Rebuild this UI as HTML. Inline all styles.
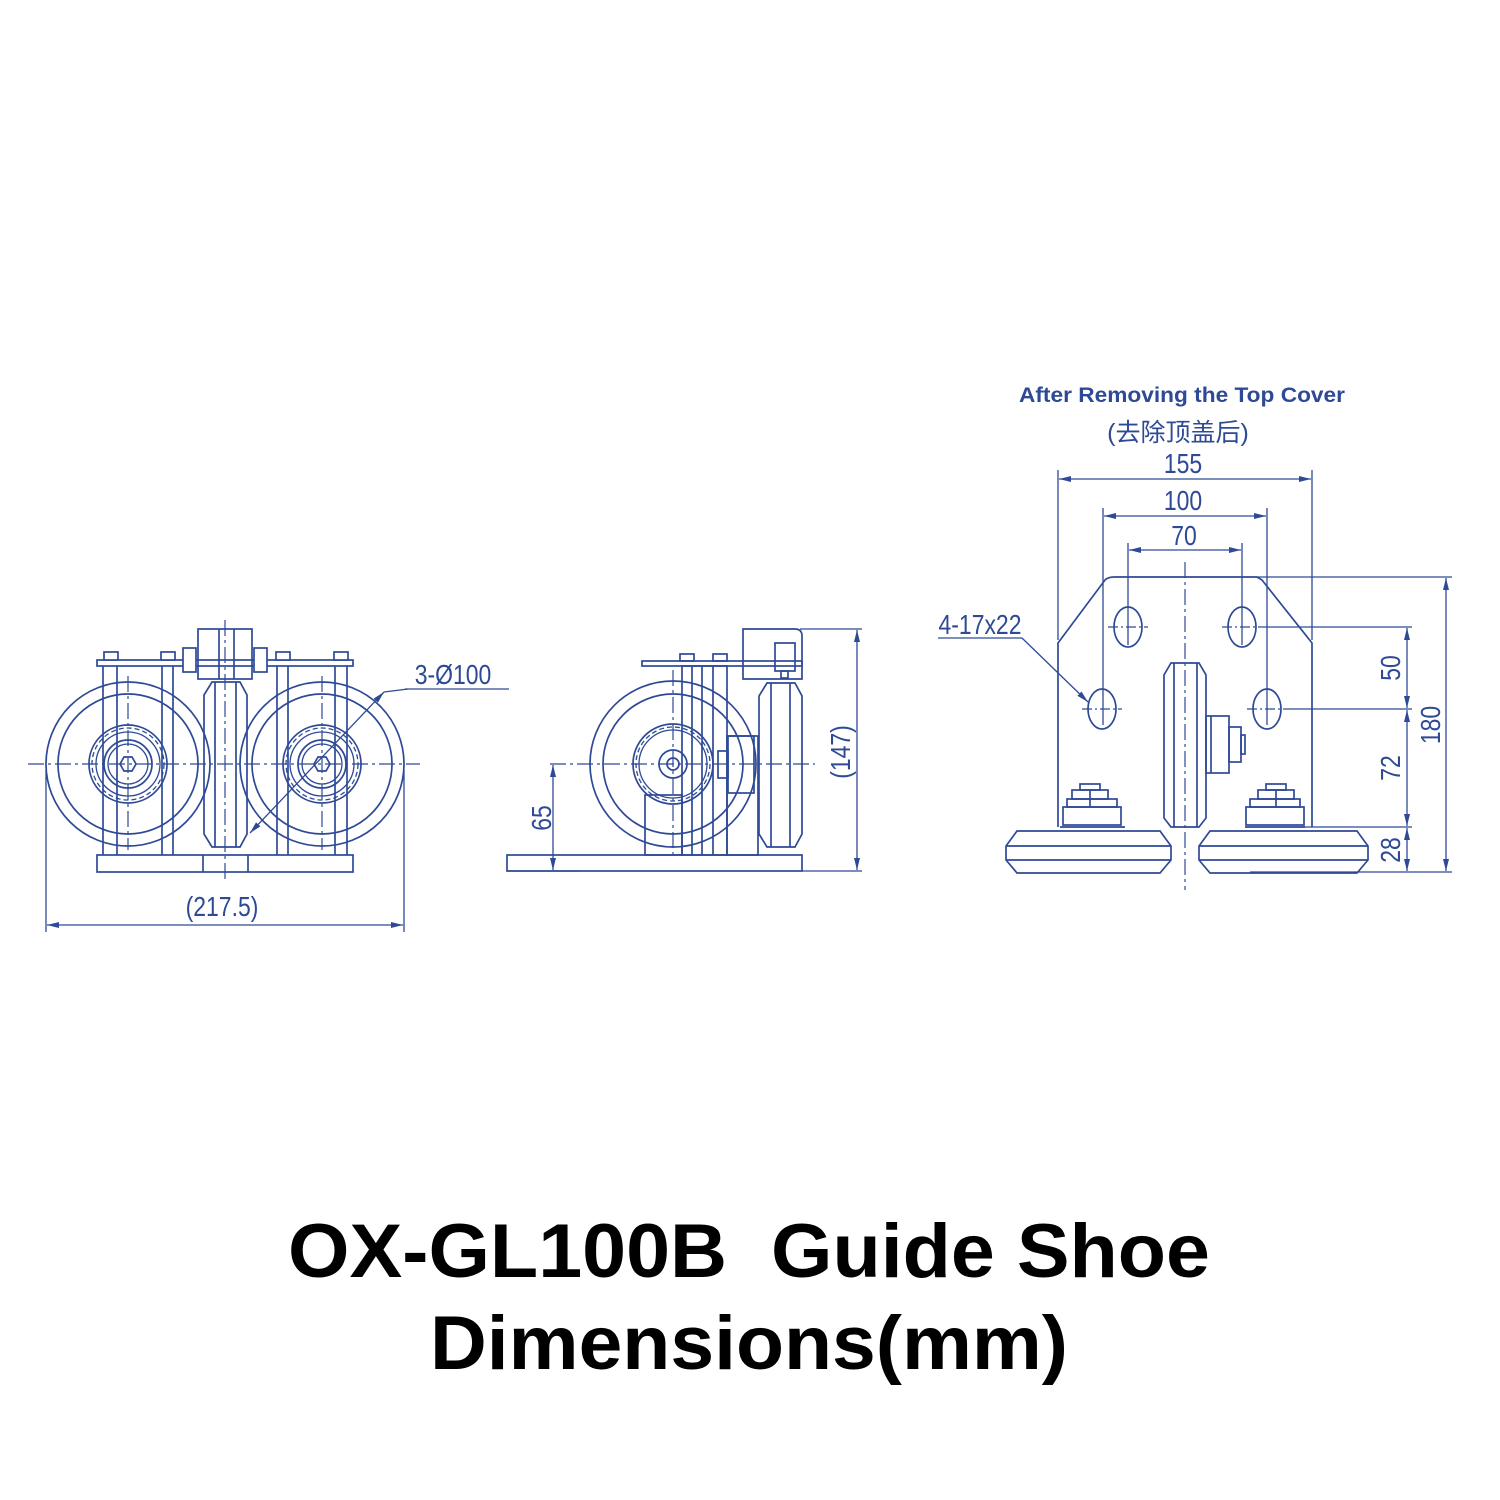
<!DOCTYPE html>
<html><head><meta charset="utf-8"><style>
html,body{margin:0;padding:0;background:#fff;width:1500px;height:1500px;overflow:hidden}
svg{display:block}
.l{stroke:#2e4a96;stroke-width:1.7;fill:none}
.t{stroke:#2e4a96;stroke-width:1.3;fill:none}
.c{stroke:#2e4a96;stroke-width:1.2;fill:none;stroke-dasharray:16 4 3 4}
.d{fill:#2e4a96;font-family:"Liberation Sans",sans-serif;font-size:28px}
</style></head><body>
<svg width="1500" height="1500" viewBox="0 0 1500 1500">
<defs>
<marker id="a" viewBox="0 0 12 6" refX="12" refY="3" markerWidth="12" markerHeight="6" orient="auto-start-reverse" markerUnits="userSpaceOnUse"><path d="M0,0 L12,3 L0,6z" fill="#2e4a96"/></marker>
</defs>

<!-- LEFT VIEW -->
<g>
<rect class="l" x="97" y="660" width="256" height="6"/>
<rect class="l" x="97" y="855" width="256" height="17"/>
<line class="l" x1="203" y1="855" x2="203" y2="872"/><line class="l" x1="248" y1="855" x2="248" y2="872"/>
<g class="l">
<line x1="103" y1="666" x2="103" y2="855"/><line x1="117" y1="666" x2="117" y2="855"/>
<line x1="162" y1="666" x2="162" y2="855"/><line x1="173" y1="666" x2="173" y2="855"/>
<line x1="277" y1="666" x2="277" y2="855"/><line x1="288" y1="666" x2="288" y2="855"/>
<line x1="335" y1="666" x2="335" y2="855"/><line x1="347" y1="666" x2="347" y2="855"/>
</g>
<g class="l" fill="#fff">
<rect x="104" y="652" width="14" height="8" fill="#fff"/><rect x="161" y="652" width="14" height="8" fill="#fff"/>
<rect x="276" y="652" width="14" height="8" fill="#fff"/><rect x="334" y="652" width="14" height="8" fill="#fff"/>
<rect x="183" y="648" width="13" height="24" fill="#fff"/><rect x="254" y="648" width="13" height="24" fill="#fff"/>
</g>
<rect class="l" x="198" y="629" width="54" height="50" fill="#fff"/>
<line class="l" x1="219" y1="629" x2="219" y2="679"/><line class="l" x1="234" y1="629" x2="234" y2="679"/>
<path class="l" d="M212,682 L240,682 L247,695 L247,834 L240,847 L212,847 L204,834 L204,695Z" fill="#fff"/>
<line class="l" x1="215" y1="682" x2="215" y2="847"/><line class="l" x1="236" y1="682" x2="236" y2="847"/>
<g>
<circle class="l" cx="128" cy="764" r="82" fill="#fff"/><circle class="l" cx="128" cy="764" r="70"/>
<circle class="l" cx="128" cy="764" r="39"/><circle class="t" cx="128" cy="764" r="32"/>
<circle class="l" cx="128" cy="764" r="24"/><circle class="t" cx="128" cy="764" r="20"/>
<circle class="t" cx="128" cy="764" r="36" stroke-dasharray="5 3"/>
<path class="l" d="M120,764 L124,757 L132,757 L136,764 L132,771 L124,771Z"/>
</g>
<g>
<circle class="l" cx="322" cy="764" r="82" fill="#fff"/><circle class="l" cx="322" cy="764" r="70"/>
<circle class="l" cx="322" cy="764" r="39"/><circle class="t" cx="322" cy="764" r="32"/>
<circle class="l" cx="322" cy="764" r="24"/><circle class="t" cx="322" cy="764" r="20"/>
<circle class="t" cx="322" cy="764" r="36" stroke-dasharray="5 3"/>
<path class="l" d="M314,764 L318,757 L326,757 L330,764 L326,771 L318,771Z"/>
</g>
<line class="c" x1="28" y1="764" x2="420" y2="764"/>
<line class="c" x1="225" y1="620" x2="225" y2="880"/>
<line class="c" x1="128" y1="676" x2="128" y2="850"/>
<line class="c" x1="322" y1="676" x2="322" y2="850"/>
<line class="t" x1="250" y1="833" x2="384" y2="692" marker-start="url(#a)" marker-end="url(#a)"/>
<line class="t" x1="384" y1="692" x2="408" y2="689"/><line class="t" x1="405" y1="689" x2="509" y2="689"/>
<text class="d" x="453" y="684" text-anchor="middle" transform="translate(453 0) scale(0.82 1) translate(-453 0)">3-Ø100</text>
<line class="t" x1="46" y1="770" x2="46" y2="932"/><line class="t" x1="404" y1="770" x2="404" y2="932"/>
<line class="t" x1="47" y1="925" x2="403" y2="925" marker-start="url(#a)" marker-end="url(#a)"/>
<text class="d" x="222" y="916" text-anchor="middle" transform="translate(222 0) scale(0.82 1) translate(-222 0)">(217.5)</text>
</g>

<!-- MIDDLE VIEW -->
<g>
<rect class="l" x="507" y="855" width="295" height="16"/>
<circle class="l" cx="673" cy="764" r="83"/><circle class="l" cx="673" cy="764" r="70"/>
<circle class="l" cx="673" cy="764" r="40"/><circle class="t" cx="673" cy="764" r="34"/>
<circle class="t" cx="673" cy="764" r="37" stroke-dasharray="5 3"/>
<circle class="l" cx="673" cy="764" r="14"/><circle class="l" cx="673" cy="764" r="6"/>
<rect class="l" x="645" y="795" width="37" height="60" fill="#fff"/>
<rect class="l" x="682" y="666" width="45" height="189" fill="#fff"/>
<g class="l"><line x1="692" y1="666" x2="692" y2="855"/><line x1="702" y1="666" x2="702" y2="855"/><line x1="713" y1="666" x2="713" y2="855"/></g>
<rect class="l" x="727" y="736" width="31" height="119" fill="#fff"/>
<rect class="l" x="728" y="736" width="26" height="57"/>
<rect class="l" x="718" y="751" width="10" height="27"/>
<rect class="l" x="642" y="661" width="160" height="5" fill="#fff"/>
<rect class="l" x="680" y="654" width="14" height="7"/><rect class="l" x="713" y="654" width="14" height="7"/>
<path class="l" d="M743,629 L795,629 Q802,629 802,636 L802,679 L743,679Z" fill="#fff"/>
<rect class="l" x="775" y="643" width="20" height="28"/><rect class="l" x="781" y="671" width="7" height="7"/>
<path class="l" d="M767,683 L795,683 L802,696 L802,834 L795,847 L767,847 L759,834 L759,696Z" fill="#fff"/>
<line class="l" x1="771" y1="683" x2="771" y2="847"/><line class="l" x1="790" y1="683" x2="790" y2="847"/>
<line class="c" x1="550" y1="764" x2="815" y2="764"/>
<line class="c" x1="673" y1="670" x2="673" y2="855"/>
<line class="t" x1="800" y1="629" x2="862" y2="629"/><line class="t" x1="802" y1="871" x2="862" y2="871"/>
<line class="t" x1="857" y1="630" x2="857" y2="870" marker-start="url(#a)" marker-end="url(#a)"/>
<text class="d" transform="translate(850 752) rotate(-90) scale(0.82 1)" text-anchor="middle">(147)</text>
<line class="t" x1="553" y1="765" x2="553" y2="870" marker-start="url(#a)" marker-end="url(#a)"/>
<line class="t" x1="507" y1="871" x2="580" y2="871"/>
<text class="d" transform="translate(551 818) rotate(-90) scale(0.82 1)" text-anchor="middle">65</text>
</g>

<!-- RIGHT VIEW -->
<g>
<text x="1182" y="402" text-anchor="middle" textLength="326" lengthAdjust="spacingAndGlyphs" style="font-family:'Liberation Sans',sans-serif;font-weight:bold;font-size:21px;fill:#2e4a96">After Removing the Top Cover</text>
<text x="1178" y="441" text-anchor="middle" style="font-family:'Liberation Sans','Noto Sans CJK SC',sans-serif;font-size:25px;fill:#2e4a96">(去除顶盖后)</text>
<g class="t">
<line x1="1058" y1="470" x2="1058" y2="640"/><line x1="1312" y1="470" x2="1312" y2="640"/>
<line x1="1103" y1="508" x2="1103" y2="725"/><line x1="1267" y1="508" x2="1267" y2="725"/>
<line x1="1128" y1="543" x2="1128" y2="645"/><line x1="1242" y1="543" x2="1242" y2="645"/>
</g>
<line class="t" x1="1059" y1="479" x2="1311" y2="479" marker-start="url(#a)" marker-end="url(#a)"/>
<line class="t" x1="1104" y1="516" x2="1266" y2="516" marker-start="url(#a)" marker-end="url(#a)"/>
<line class="t" x1="1129" y1="550" x2="1241" y2="550" marker-start="url(#a)" marker-end="url(#a)"/>
<text class="d" x="1183" y="473" text-anchor="middle" transform="translate(1183 0) scale(0.82 1) translate(-1183 0)">155</text>
<text class="d" x="1183" y="510" text-anchor="middle" transform="translate(1183 0) scale(0.82 1) translate(-1183 0)">100</text>
<text class="d" x="1184" y="545" text-anchor="middle" transform="translate(1184 0) scale(0.82 1) translate(-1184 0)">70</text>
<path class="l" d="M1058,827 L1058,643 L1105,580 Q1108,577 1114,577 L1257,577 L1262,580 L1312,643 L1312,827"/>
<line class="t" x1="1257" y1="577" x2="1452" y2="577"/>
<g class="l" fill="#fff">
<ellipse cx="1128" cy="627" rx="14" ry="20"/><ellipse cx="1242" cy="627" rx="14" ry="20"/>
<ellipse cx="1102" cy="709" rx="14" ry="20"/><ellipse cx="1267" cy="709" rx="14" ry="20"/>
</g>
<g class="t" stroke-dasharray="10 3 2 3">
<line x1="1108" y1="627" x2="1148" y2="627"/><line x1="1222" y1="627" x2="1262" y2="627"/>
<line x1="1082" y1="709" x2="1122" y2="709"/><line x1="1247" y1="709" x2="1287" y2="709"/>
</g>
<line class="t" x1="1262" y1="627" x2="1412" y2="627"/>
<line class="t" x1="1287" y1="709" x2="1412" y2="709"/>
<line class="t" x1="1300" y1="827" x2="1412" y2="827"/>
<line class="t" x1="1250" y1="872" x2="1452" y2="872"/>
<line class="t" x1="1407" y1="628" x2="1407" y2="708" marker-start="url(#a)" marker-end="url(#a)"/>
<line class="t" x1="1407" y1="710" x2="1407" y2="826" marker-start="url(#a)" marker-end="url(#a)"/>
<line class="t" x1="1407" y1="828" x2="1407" y2="871" marker-start="url(#a)" marker-end="url(#a)"/>
<line class="t" x1="1446" y1="578" x2="1446" y2="871" marker-start="url(#a)" marker-end="url(#a)"/>
<text class="d" transform="translate(1400 668) rotate(-90) scale(0.82 1)" text-anchor="middle">50</text>
<text class="d" transform="translate(1400 768) rotate(-90) scale(0.82 1)" text-anchor="middle">72</text>
<text class="d" transform="translate(1400 850) rotate(-90) scale(0.82 1)" text-anchor="middle">28</text>
<text class="d" transform="translate(1440 725) rotate(-90) scale(0.82 1)" text-anchor="middle">180</text>
<path class="l" d="M1171,663 L1199,663 L1206,675 L1206,818 L1199,827 L1171,827 L1164,818 L1164,675Z" fill="#fff"/>
<line class="l" x1="1174" y1="663" x2="1174" y2="827"/><line class="l" x1="1197" y1="663" x2="1197" y2="827"/>
<rect class="l" x="1206" y="716" width="23" height="57"/><line class="l" x1="1211" y1="716" x2="1211" y2="773"/>
<rect class="l" x="1229" y="727" width="12" height="35"/><rect class="l" x="1241" y="735" width="4" height="19"/>
<g class="l">
<rect x="1063" y="807" width="58" height="18"/><rect x="1067" y="799" width="50" height="8"/>
<rect x="1072" y="790" width="36" height="9"/><rect x="1080" y="784" width="20" height="6"/>
<line x1="1090" y1="790" x2="1090" y2="807"/>
<rect x="1246" y="807" width="58" height="18"/><rect x="1250" y="799" width="50" height="8"/>
<rect x="1258" y="790" width="36" height="9"/><rect x="1266" y="784" width="20" height="6"/>
<line x1="1276" y1="790" x2="1276" y2="807"/>
<line x1="1060" y1="827" x2="1125" y2="827"/><line x1="1245" y1="827" x2="1305" y2="827"/>
</g>
<path class="l" d="M1017,831 L1160,831 L1171,846 L1171,860 L1160,873 L1017,873 L1006,860 L1006,846Z" fill="#fff"/>
<line class="l" x1="1006" y1="846" x2="1171" y2="846"/><line class="l" x1="1006" y1="860" x2="1171" y2="860"/>
<path class="l" d="M1210,831 L1357,831 L1368,846 L1368,860 L1357,873 L1210,873 L1199,860 L1199,846Z" fill="#fff"/>
<line class="l" x1="1199" y1="846" x2="1368" y2="846"/><line class="l" x1="1199" y1="860" x2="1368" y2="860"/>
<line class="c" x1="1185" y1="562" x2="1185" y2="890"/>
<text class="d" x="980" y="634" text-anchor="middle" transform="translate(980 0) scale(0.82 1) translate(-980 0)">4-17x22</text>
<line class="t" x1="938" y1="638" x2="1022" y2="638"/>
<line class="t" x1="1022" y1="638" x2="1088" y2="702" marker-end="url(#a)"/>
</g>

<text x="288" y="1277" textLength="922" lengthAdjust="spacingAndGlyphs" xml:space="preserve" style="white-space:pre;font-family:'Liberation Sans',sans-serif;font-weight:bold;font-size:76px;fill:#000">OX-GL100B  Guide Shoe</text>
<text x="430" y="1369" textLength="638" lengthAdjust="spacingAndGlyphs" style="font-family:'Liberation Sans',sans-serif;font-weight:bold;font-size:76px;fill:#000">Dimensions(mm)</text>
</svg>
</body></html>
